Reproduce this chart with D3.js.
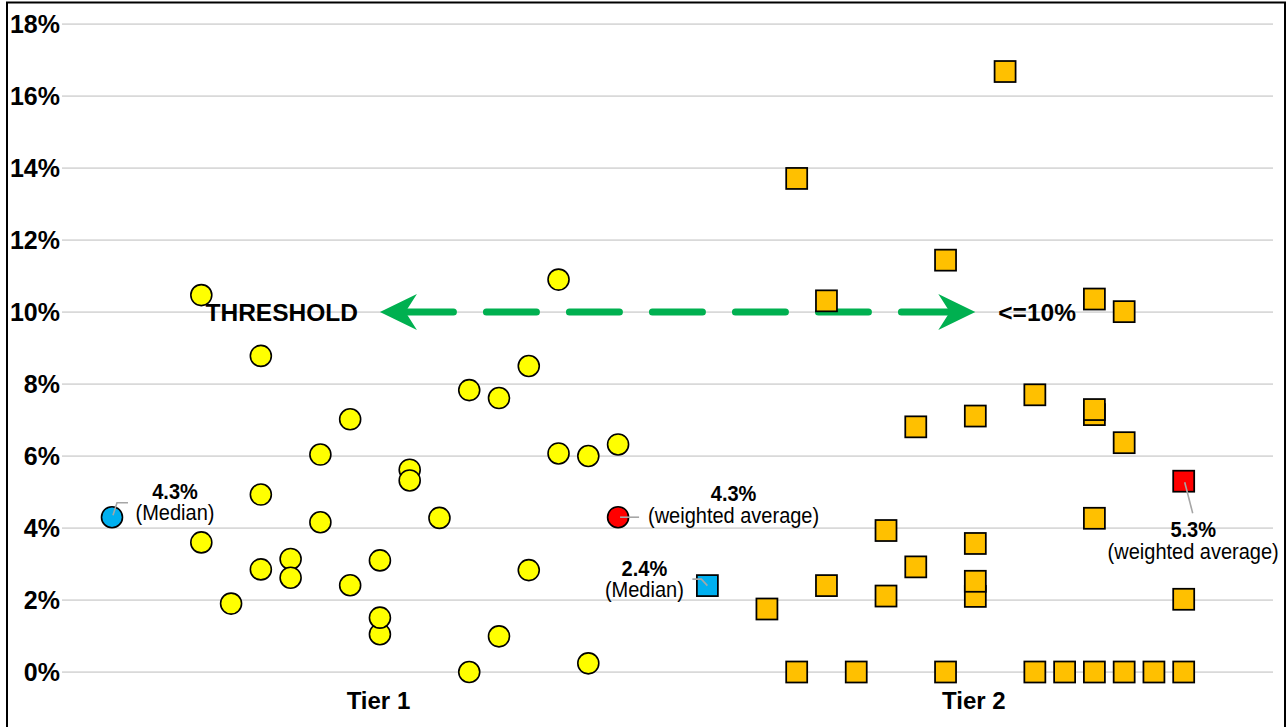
<!DOCTYPE html>
<html><head><meta charset="utf-8">
<script src="https://cdn.jsdelivr.net/npm/d3@7"></script>
<style>
html,body{margin:0;padding:0;background:#fff;}
svg{display:block;font-family:"Liberation Sans",Arial,Helvetica,sans-serif;}
</style></head><body>
<svg id="chart" width="1286" height="727"></svg>
<script>
// Tier 1 entities: slot along the horizontal axis and rate (%)
const tier1Slots  = [3, 3, 4, 5, 5, 5, 6, 6, 7, 7, 8, 8, 9, 9, 9, 10, 10, 11, 12, 12, 13, 13, 14, 14, 15, 15, 16, 16, 17];
const tier1Values = [10.47, 3.6, 1.9, 8.78, 4.93, 2.85, 3.14, 2.62, 6.04, 4.16, 7.02, 2.41, 3.1, 1.05, 1.51, 5.62, 5.32, 4.28, 7.83, 0, 7.61, 0.99, 8.5, 2.83, 10.9, 6.07, 6.0, 0.24, 6.32];

// Tier 2 entities
const tier2Slots  = [22, 23, 23, 24, 24, 25, 26, 26, 27, 27, 28, 28, 29, 29, 29, 29, 30, 31, 31, 32, 33, 33, 33, 33, 33, 34, 34, 34, 35, 36, 36];
const tier2Values = [1.75, 13.71, 0, 10.31, 2.4, 0, 3.93, 2.11, 6.81, 2.92, 11.44, 0, 7.11, 3.57, 2.1, 2.52, 16.68, 7.7, 0, 0, 10.36, 7.15, 7.29, 4.27, 0, 10.01, 6.37, 0, 0, 2.02, 0];

// Summary statistics per tier
const summaryTier     = [1, 1, 2, 2];
const summarySlots    = [0, 17, 20, 36];
const summaryValues   = [4.3, 4.3, 2.4, 5.3];
const summaryCaptions = ["(Median)", "(weighted average)", "(Median)", "(weighted average)"];
const summaryKinds    = ["median", "wavg", "median", "wavg"];

// Axis labels
const yTicks = [0, 2, 4, 6, 8, 10, 12, 14, 16, 18];
const categories = ["Tier 1", "Tier 2"];
const categorySlots = [9, 29];

// Threshold band
const threshold = 10;
const thresholdSpan = [9, 29];
const thresholdLeftText = "THRESHOLD";
const thresholdRightText = "<=10%";

const svg = d3.select("#chart");
svg.append("rect").attr("width", 1286).attr("height", 727).attr("fill", "#fff");

const x = d3.scaleLinear().domain([0, 36]).range([112, 1183.7]);
const y = d3.scaleLinear().domain([0, 18]).range([672, 24]);
const gridX0 = 62, gridX1 = 1273;

const colors = {
  tier1: "#FFFF00", tier2: "#FFC000", median: "#00B0F0", wavg: "#FF0000",
  grid: "#D9D9D9", leader: "#A6A6A6", arrow: "#00B050"
};

// chart frame
svg.append("path").attr("d", "M7,727V2.5H1285V727")
  .attr("fill", "none").attr("stroke", "#000").attr("stroke-width", 2);

// gridlines
svg.append("g").selectAll("line").data(yTicks).join("line")
  .attr("x1", gridX0).attr("x2", gridX1)
  .attr("y1", d => y(d)).attr("y2", d => y(d))
  .attr("stroke", colors.grid).attr("stroke-width", 1.75);

// y axis labels
const yAxis = svg.append("g").attr("transform", `translate(${gridX0},0)`)
  .call(d3.axisLeft(y).tickValues(yTicks).tickSize(0).tickPadding(2).tickFormat(d => d + "%"));
yAxis.select(".domain").remove();
yAxis.selectAll("text").attr("font-size", 25).attr("font-weight", "bold").attr("fill", "#000")
  .attr("font-family", '"Liberation Sans",Arial,sans-serif');

// category labels
const xAxis = svg.append("g").attr("transform", `translate(-2,${y(0)})`)
  .call(d3.axisBottom(x).tickValues(categorySlots).tickSize(0).tickPadding(20)
    .tickFormat((d, i) => categories[i]));
xAxis.select(".domain").remove();
xAxis.selectAll("text").attr("font-size", 24).attr("font-weight", "bold").attr("fill", "#000")
  .attr("font-family", '"Liberation Sans",Arial,sans-serif');

// threshold arrow
const ty = y(threshold);
const ax0 = x(thresholdSpan[0]), ax1 = x(thresholdSpan[1]);
const arrowG = svg.append("g");
arrowG.append("line")
  .attr("x1", ax0 + 23.5).attr("x2", ax1 - 20).attr("y1", ty).attr("y2", ty)
  .attr("stroke", colors.arrow).attr("stroke-width", 7)
  .attr("stroke-linecap", "round").attr("stroke-dasharray", "50 33");
arrowG.append("path")
  .attr("d", `M${ax0},${ty}L${ax0 + 37},${ty - 18}L${ax0 + 25.5},${ty}L${ax0 + 37},${ty + 18}Z`)
  .attr("fill", colors.arrow);
arrowG.append("path")
  .attr("d", `M${ax1},${ty}L${ax1 - 37},${ty - 18}L${ax1 - 25.5},${ty}L${ax1 - 37},${ty + 18}Z`)
  .attr("fill", colors.arrow);
arrowG.append("text").attr("x", ax0 - 22).attr("y", ty).attr("dy", "0.35em")
  .attr("text-anchor", "end").attr("font-size", 24.5).attr("font-weight", "bold")
  .text(thresholdLeftText);
arrowG.append("text").attr("x", ax1 + 23).attr("y", ty).attr("dy", "0.35em")
  .attr("text-anchor", "start").attr("font-size", 24.5).attr("font-weight", "bold")
  .text(thresholdRightText);

// tier 1 circles
const r = 10.5;
svg.append("g").selectAll("circle").data(tier1Values).join("circle")
  .attr("cx", (d, i) => x(tier1Slots[i])).attr("cy", d => y(d)).attr("r", r)
  .attr("fill", colors.tier1).attr("stroke", "#000").attr("stroke-width", 1.6);

// tier 2 squares
const side = 21;
svg.append("g").selectAll("rect").data(tier2Values).join("rect")
  .attr("x", (d, i) => x(tier2Slots[i]) - side / 2).attr("y", d => y(d) - side / 2)
  .attr("width", side).attr("height", side)
  .attr("fill", colors.tier2).attr("stroke", "#000").attr("stroke-width", 1.75);

// summary labels: text offsets and leader lines relative to each marker
const labelLayout = [
  { dx: 63,    vy: -18, cy: 3,    leader: [[1, -2], [5, -14.5], [16, -14.5]] },
  { dx: 115.5, vy: -16, cy: 6,    leader: [[2, 0], [21, 0]] },
  { dx: -63,   vy: -10, cy: 11.5, leader: [[0, 0], [-6, -6.5], [-15, -6.5]] },
  { dx: 9.5,   vy: 56,  cy: 78,   leader: [[1, 1], [9, 32]] }
];
const fmt = d3.format(".1f");
const stretch = 1.14; // annotation text is set slightly tall

summaryValues.forEach((v, i) => {
  const px = x(summarySlots[i]), py = y(v);
  const L = labelLayout[i];
  const g = svg.append("g");
  const fill = colors[summaryKinds[i]];
  if (summaryTier[i] === 1) {
    g.append("circle").attr("cx", px).attr("cy", py).attr("r", r)
      .attr("fill", fill).attr("stroke", "#000").attr("stroke-width", 1.6);
  } else {
    g.append("rect").attr("x", px - side / 2).attr("y", py - side / 2)
      .attr("width", side).attr("height", side)
      .attr("fill", fill).attr("stroke", "#000").attr("stroke-width", 1.75);
  }
  g.append("path")
    .attr("d", d3.line()(L.leader.map(p => [px + p[0], py + p[1]])))
    .attr("fill", "none").attr("stroke", colors.leader).attr("stroke-width", 1.6);
  g.append("text")
    .attr("transform", `translate(${px + L.dx},${py + L.vy}) scale(1,${stretch})`)
    .attr("text-anchor", "middle").attr("font-size", 20).attr("font-weight", "bold")
    .text(fmt(v) + "%");
  g.append("text")
    .attr("transform", `translate(${px + L.dx},${py + L.cy}) scale(1,${stretch})`)
    .attr("text-anchor", "middle").attr("font-size", 20)
    .text(summaryCaptions[i]);
});
</script>
</body></html>
